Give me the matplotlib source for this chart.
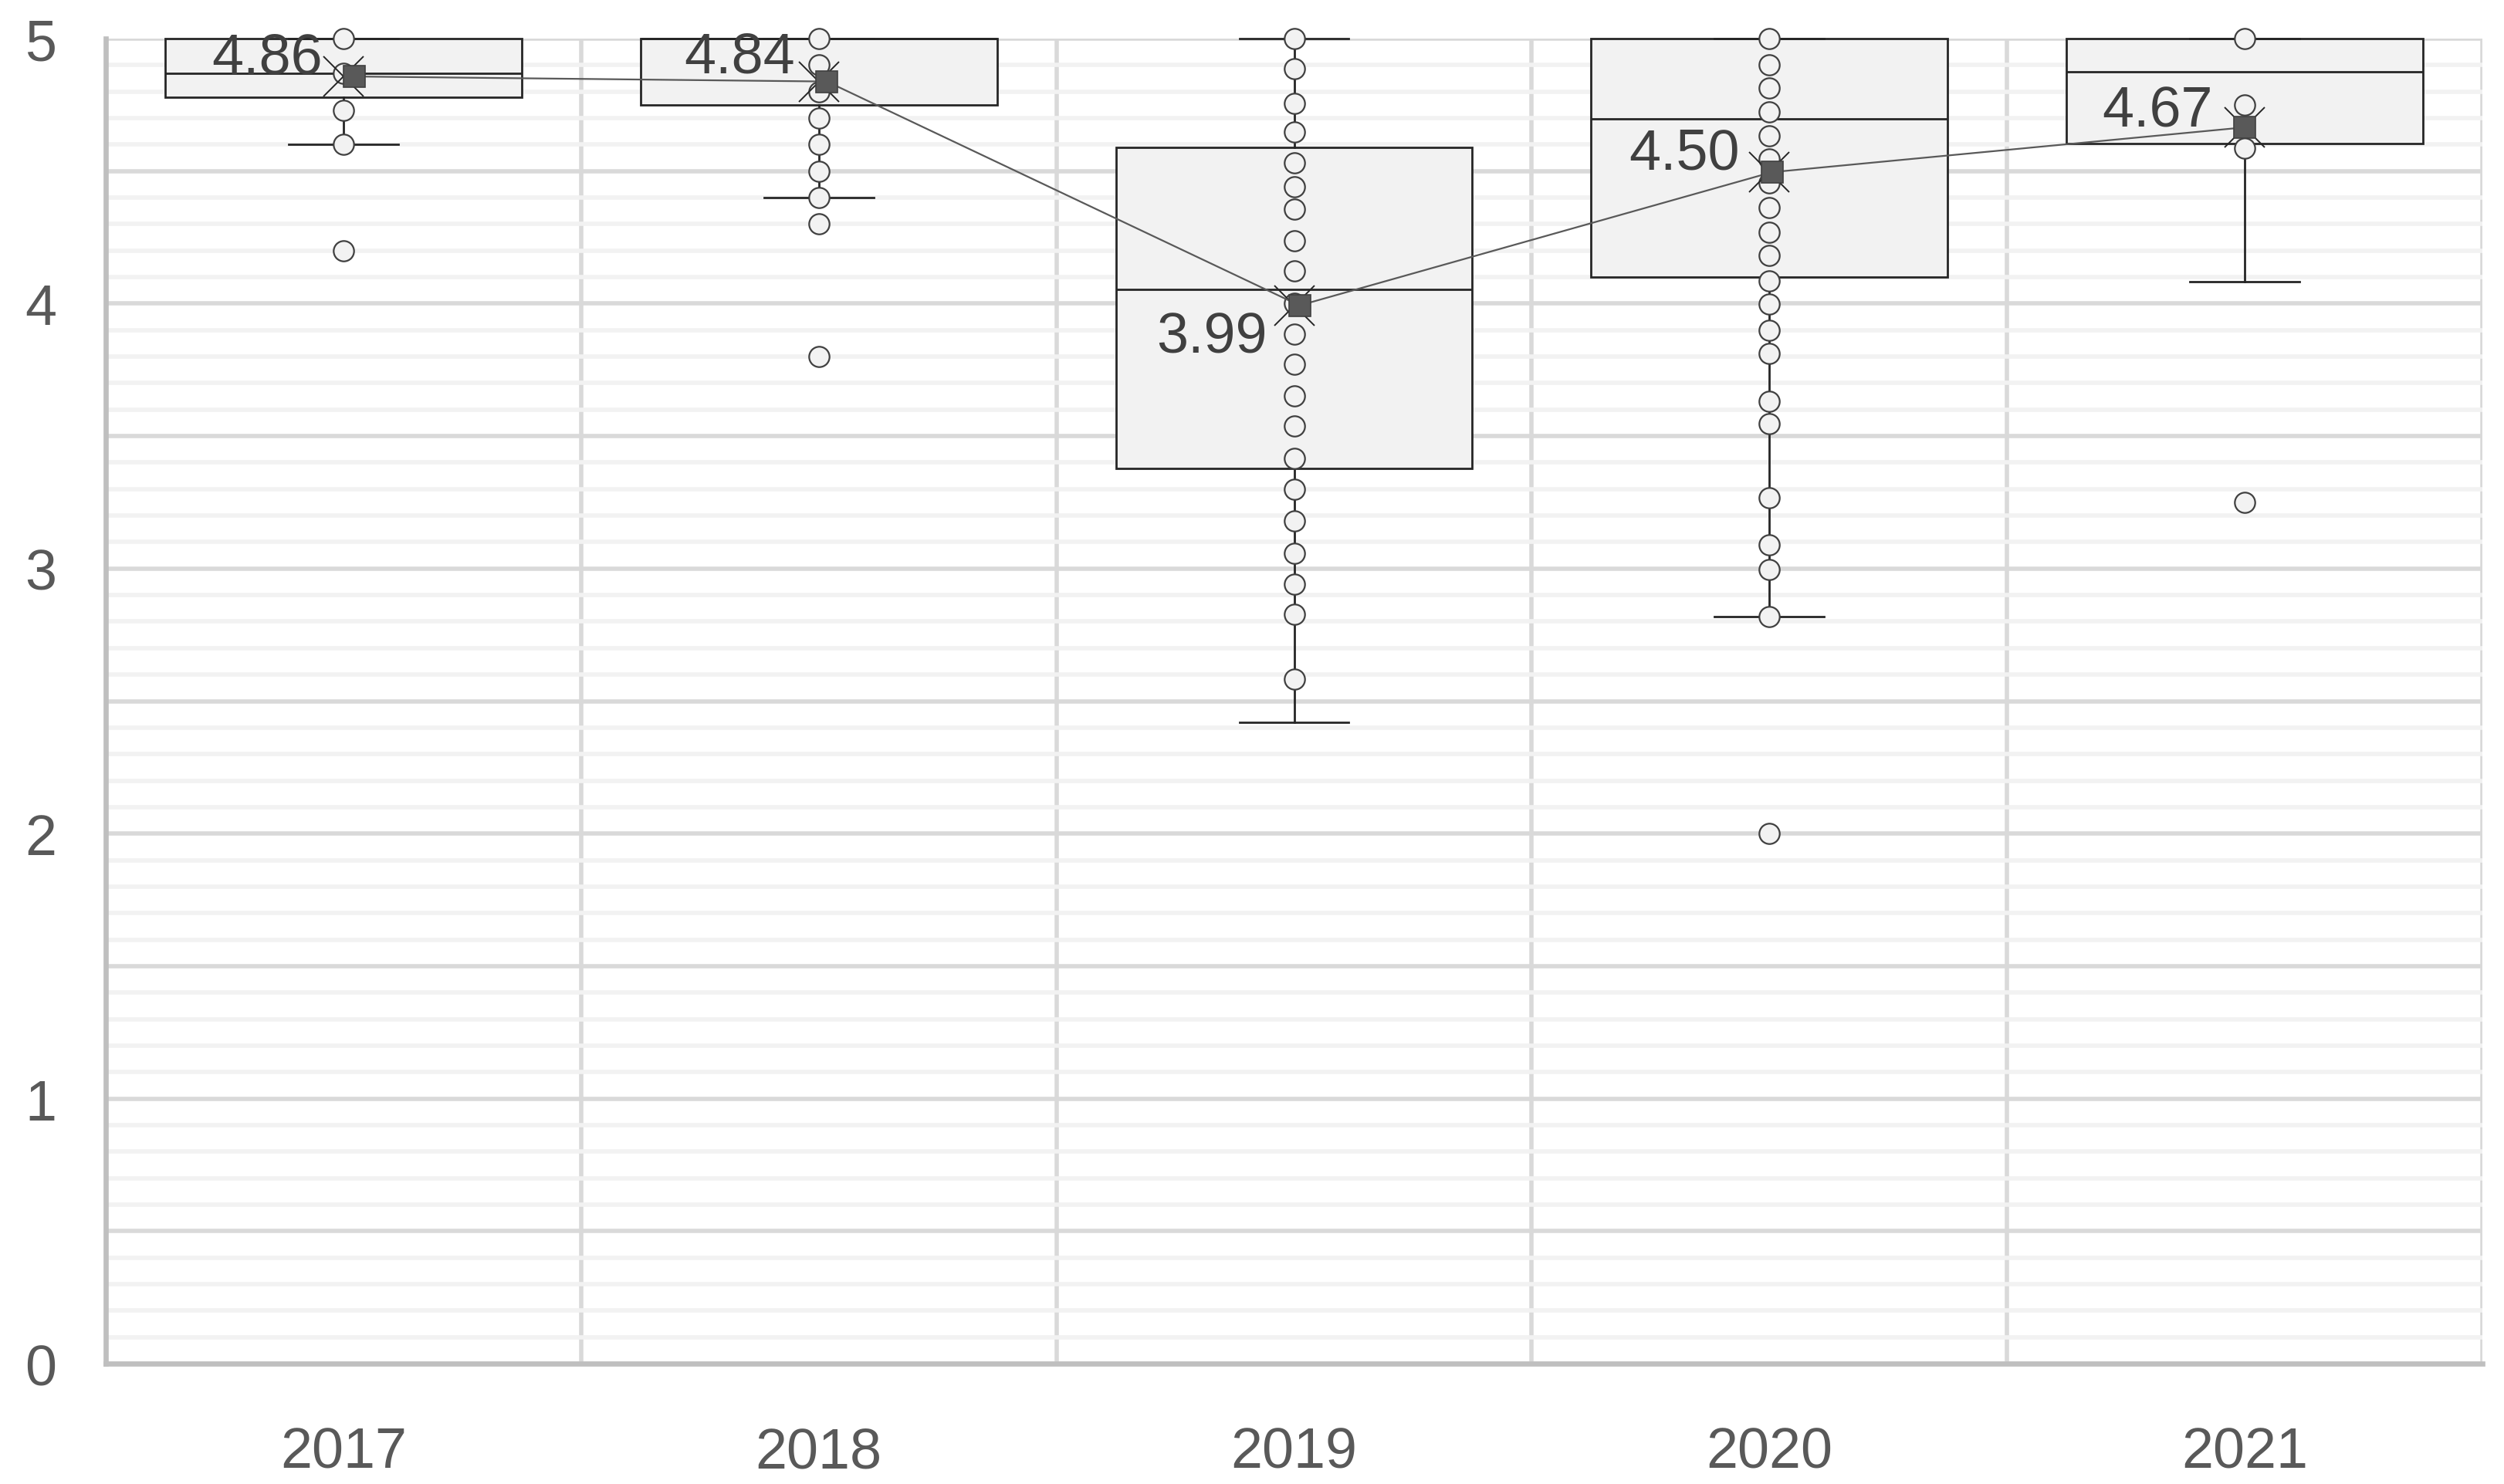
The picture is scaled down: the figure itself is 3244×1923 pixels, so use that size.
import numpy as np
import matplotlib
matplotlib.use("Agg")
import matplotlib.pyplot as plt
from matplotlib.ticker import MultipleLocator, FuncFormatter

plt.rcParams['font.family'] = ['Liberation Sans', 'DejaVu Sans']

# ---------------- data ----------------
years = ["2017", "2018", "2019", "2020", "2021"]

q1 = [4.78, 4.75, 3.378, 4.10, 4.605]
median = [4.87, 5.00, 4.055, 4.698, 4.874]
q3 = [5.00, 5.00, 4.59, 5.00, 5.00]
whisker_low = [4.60, 4.40, 2.419, 2.82, 4.084]
whisker_high = [5.00, 5.00, 5.00, 5.00, 5.00]

means = [4.857, 4.838, 3.993, 4.496, 4.665]

points_2017 = [5.00, 4.87, 4.73, 4.60, 4.20]
points_2018 = [5.00, 4.90, 4.80, 4.70, 4.60, 4.50, 4.40, 4.30, 3.80]
points_2019 = [5.00, 4.885, 4.755, 4.649, 4.532, 4.442, 4.355, 4.238, 4.123, 4.00,
               3.885, 3.770, 3.652, 3.537, 3.416, 3.299, 3.180, 3.059, 2.942, 2.827, 2.584]
points_2020 = [5.00, 4.90, 4.814, 4.722, 4.632, 4.545, 4.455, 4.363, 4.269, 4.181,
               4.087, 3.999, 3.899, 3.813, 3.632, 3.546, 3.268, 3.091, 2.997, 2.82, 2.00]
points_2021 = [5.00, 4.749, 4.586, 3.249]
points = [points_2017, points_2018, points_2019, points_2020, points_2021]

# ---------------- style ----------------
DPI = 200
fig = plt.figure(figsize=(3244 / DPI, 1924 / DPI), dpi=DPI)
ax = fig.add_axes([137 / 3244, 1 - 1768 / 1924, (3216 - 137) / 3244, (1768 - 51) / 1924])

BOX_EDGE = "#262626"
GRID_MAJ = "#d9d9d9"
GRID_MIN = "#f2f2f2"
SPINE = "#bfbfbf"
TXT = "#595959"
FS = 26.5

pos = np.arange(len(years))

stats = []
for i in range(len(years)):
    stats.append(dict(q1=q1[i], med=median[i], q3=q3[i],
                      whislo=whisker_low[i], whishi=whisker_high[i],
                      fliers=[], label=years[i]))

ax.bxp(stats, positions=pos, widths=0.75, capwidths=0.23, patch_artist=True,
       showfliers=False, manage_ticks=False,
       boxprops=dict(facecolor="#f2f2f2", edgecolor=BOX_EDGE, linewidth=1.0),
       whiskerprops=dict(color=BOX_EDGE, linewidth=1.0),
       capprops=dict(color=BOX_EDGE, linewidth=1.0),
       medianprops=dict(color=BOX_EDGE, linewidth=1.0),
       zorder=3)
for art in ax.patches:
    art.set_clip_on(False)
for ln in ax.lines:
    ln.set_clip_on(False)

# inner points / outliers
for i, pts in enumerate(points):
    ax.plot(np.full(len(pts), pos[i]), pts, linestyle="none", marker="o",
            markersize=9.5, markerfacecolor="#f2f2f2", markeredgecolor="#404040",
            markeredgewidth=0.8, zorder=4, clip_on=False)

# box-plot mean markers (X)
ax.plot(pos, means, linestyle="none", marker="x", markersize=19,
        markeredgecolor="#262626", markeredgewidth=0.7, zorder=5, clip_on=False)

# axes / grid
ax.set_xlim(-0.5, len(years) - 0.5)
ax.set_ylim(0, 5)
ax.yaxis.set_major_locator(MultipleLocator(0.5))
ax.yaxis.set_minor_locator(MultipleLocator(0.1))
ax.yaxis.set_major_formatter(FuncFormatter(lambda v, p: f"{v:.0f}" if abs(v - round(v)) < 1e-6 else ""))
ax.set_xticks(pos)
ax.set_xticklabels(years)
ax.set_xticks(np.arange(0.5, len(years), 1.0), minor=True)

ax.grid(which="minor", axis="y", color=GRID_MIN, linewidth=2.0, zorder=0)
ax.grid(which="major", axis="y", color=GRID_MAJ, linewidth=2.0, zorder=0.5)
ax.grid(which="minor", axis="x", color=GRID_MAJ, linewidth=2.0, zorder=0.5)
ax.set_axisbelow(True)

ax.tick_params(axis="both", which="both", length=0)
ax.tick_params(axis="y", which="major", pad=23, labelsize=FS, labelcolor=TXT)
ax.tick_params(axis="x", which="major", pad=29, labelsize=FS, labelcolor=TXT)

for s in ["top", "right"]:
    ax.spines[s].set_visible(False)
for s in ["left", "bottom"]:
    ax.spines[s].set_color(SPINE)
    ax.spines[s].set_linewidth(2.4)
    ax.spines[s].set_zorder(1)

# mean line on a secondary category axis (slightly different category placement)
ax2 = ax.twiny()
ax2.set_xlim(-0.526, 4.503)
ax2.set_axis_off()
ax2.plot(pos, means, color="#595959", linewidth=0.8, marker="s", markersize=10,
         markerfacecolor="#595959", markeredgecolor="#404040", markeredgewidth=0.6,
         zorder=6, clip_on=False)

label_dy = [8.5, 11.5, -15, 8.5, 7.5]
for i, m in enumerate(means):
    ax2.annotate(f"{m:.2f}", xy=(pos[i], m), xytext=(-15, label_dy[i]),
                 textcoords="offset points", ha="right", va="center",
                 fontsize=FS, color="#404040", zorder=7, annotation_clip=False)

fig.savefig("out.png", dpi=DPI, facecolor="white")
